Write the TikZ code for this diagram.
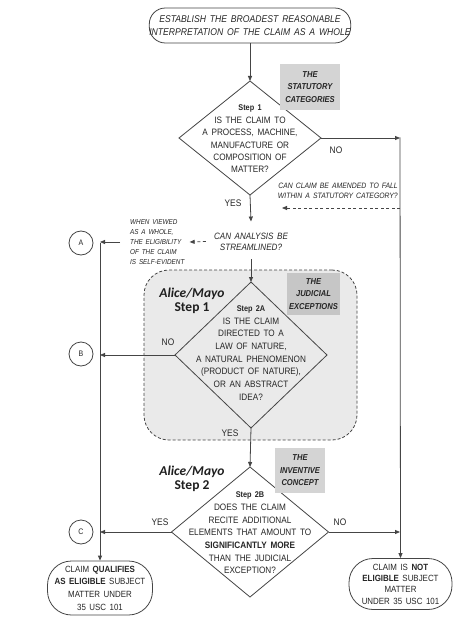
\documentclass[tikz,border=0pt]{standalone}
\usepackage{fontspec}
\setmainfont{Liberation Sans}[FakeStretch=0.88,WordSpace=1.6]
\newfontfamily\alicef{Carlito}
\usetikzlibrary{shapes.geometric,arrows.meta}
\definecolor{lc}{HTML}{454545}
\definecolor{tc}{HTML}{262626}
\definecolor{gboxa}{HTML}{D4D4D4}
\definecolor{gboxb}{HTML}{C6C6C6}
\definecolor{regfill}{HTML}{EAEAEA}
\newcommand\fsz[2]{\fontsize{#1}{#2}\selectfont}
\begin{document}
\begin{tikzpicture}[x=1pt,y=-1pt,
 ln/.style={draw=lc,line width=0.8pt},
 arr/.style={ln,-{Triangle[length=5pt,width=4pt]}},
 darr/.style={arr,dash pattern=on 3pt off 2.5pt},
 dia/.style={diamond,draw=lc,line width=0.8pt,inner sep=0pt,outer sep=0pt},
 txt/.style={text=tc,align=center,inner sep=0pt,font=\fsz{9.3}{12.6}},
 gbox/.style={fill=#1,inner sep=0pt,align=center,text=tc,font=\bfseries\itshape\fsz{8.6}{12.5}},
 term/.style={draw=lc,line width=0.8pt,rounded corners=#1,inner sep=0pt,align=center,text=tc},
 circ/.style={circle,draw=lc,line width=0.8pt,minimum size=24pt,inner sep=0pt,font=\fsz{8}{9},text=tc},
 lab/.style={text=tc,font=\fsz{9.5}{10},inner sep=0pt},
 smit/.style={text=tc,inner sep=0pt,font=\itshape\fsz{7.8}{10}},
 alice/.style={text=black!88,align=center,inner sep=0pt,font=\alicef\bfseries\fsz{13.5}{14}},
]
\useasboundingbox (0,0) rectangle (470,631);
\fill[white] (0,0) rectangle (470,631);

% dashed region of judicial exceptions
\node[draw=lc,line width=0.8pt,dash pattern=on 3pt off 2pt,fill=regfill,rounded corners=25pt,
      minimum width=213pt,minimum height=170pt,inner sep=0pt] (region) at (250.5,355) {};

% top terminal
\node[term=16pt,minimum width=194pt,minimum height=35pt,font=\itshape\fsz{9.8}{13}] (top) at (250,25.5)
  {ESTABLISH THE BROADEST REASONABLE\\INTERPRETATION OF THE CLAIM AS A WHOLE};

% diamond 1
\node[dia,minimum width=142pt,minimum height=114pt] (d1) at (250,138) {};
\node[txt,font=\fsz{9.3}{12.4}] (d1t) at (250,139)
  {\textbf{\fsz{8.3}{12.4}Step 1}\\IS THE CLAIM TO\\A PROCESS, MACHINE,\\MANUFACTURE OR\\COMPOSITION OF\\MATTER?};
\node[gbox=gboxa,minimum width=60pt,minimum height=46pt] (stat) at (310,87)
  {THE\\STATUTORY\\CATEGORIES};

\node[lab] (no1) at (336,150) {NO};
\node[lab] (yes1) at (233,203) {YES};

% right vertical line
\coordinate (rtop) at (400,137.5);
\coordinate (am) at (400,208);
\coordinate (amend end) at (282,208);
\node[smit,anchor=east,align=right] (amend) at (398,190.5)
  {CAN CLAIM BE AMENDED TO FALL\\WITHIN A STATUTORY CATEGORY?};

% streamlined
\node[txt,font=\itshape\fsz{9.2}{11}] (stream) at (251,241.5) {CAN ANALYSIS BE\\STREAMLINED?};
\node[smit,align=left,anchor=west,font=\itshape\fsz{7.2}{10}] (selfev) at (130,242)
  {WHEN VIEWED\\AS A WHOLE,\\THE ELIGIBILITY\\OF THE CLAIM\\IS SELF-EVIDENT};

% left vertical line and circles
\coordinate (vtop) at (100,243);
\node[circ] (cA) at (81,243) {A};
\node[circ] (cB) at (81,354) {B};
\node[circ] (cC) at (81,532) {C};

% diamond 2
\node[dia,minimum width=152pt,minimum height=146pt] (d2) at (251,355) {};
\node[txt,font=\fsz{9.3}{12.7}] (d2t) at (251,353)
  {\textbf{\fsz{8.3}{12.7}Step 2A}\\IS THE CLAIM\\DIRECTED TO A\\LAW OF NATURE,\\A NATURAL PHENOMENON\\(PRODUCT OF NATURE),\\OR AN ABSTRACT\\IDEA?};
\node[gbox=gboxb,minimum width=53pt,minimum height=42pt] (jud) at (313.5,294)
  {THE\\JUDICIAL\\EXCEPTIONS};
\node[alice] (am1) at (192,301) {\itshape Alice/Mayo\\Step 1};
\node[lab] (no2) at (168,342) {NO};
\node[lab] (yes2) at (230,433) {YES};

% diamond 3
\node[dia,minimum width=157pt,minimum height=130pt] (d3) at (250,532) {};
\node[txt,font=\fsz{9.3}{12.7}] (d3t) at (250,533)
  {\textbf{\fsz{8.3}{12.7}Step 2B}\\DOES THE CLAIM\\RECITE ADDITIONAL\\ELEMENTS THAT AMOUNT TO\\\textbf{SIGNIFICANTLY MORE}\\THAN THE JUDICIAL\\EXCEPTION?};
\node[gbox=gboxa,minimum width=50pt,minimum height=45pt] (inv) at (300,470.5)
  {THE\\INVENTIVE\\CONCEPT};
\node[alice] (am2) at (192,478.5) {\itshape Alice/Mayo\\Step 2};
\node[lab] (yes3) at (160,522) {YES};
\node[lab] (no3) at (340,522) {NO};

% bottom terminals
\node[term=24pt,minimum width=105pt,minimum height=54pt,font=\fsz{9}{12.6}] (elig) at (100,588)
  {CLAIM \textbf{QUALIFIES}\\\textbf{AS ELIGIBLE} SUBJECT\\MATTER UNDER\\35 USC 101};
\node[term=24pt,minimum width=103pt,minimum height=51pt,font=\fsz{9}{11.4}] (notel) at (400.5,584)
  {CLAIM IS \textbf{NOT}\\\textbf{ELIGIBLE} SUBJECT\\MATTER\\UNDER 35 USC 101};

% connectors
\draw[arr] (top.south) -- (d1.north);
\draw[arr] (d1.east) -- (d1.east -| rtop);
\draw[arr] (rtop) -- (notel.north);
\draw[darr] (am) -- (amend end);
\draw[arr] (d1.south) -- ([yshift=11pt]stream.north);
\draw[arr] ([yshift=-9pt]stream.south) -- (d2.north);
\draw[darr] ([xshift=-8pt]stream.west) -- ([xshift=5pt]selfev.east);
\draw[arr] ([xshift=-10pt]selfev.west) -- (selfev.west -| vtop);
\draw[arr] (vtop) -- (elig.north);
\draw[arr] (d2.west) -- (d2.west -| vtop);
\draw[arr] (d2.south) -- (d3.north);
\draw[arr] (d3.west) -- (d3.west -| vtop);
\draw[arr] (d3.east) -- (d3.east -| rtop);
\end{tikzpicture}
\end{document}
